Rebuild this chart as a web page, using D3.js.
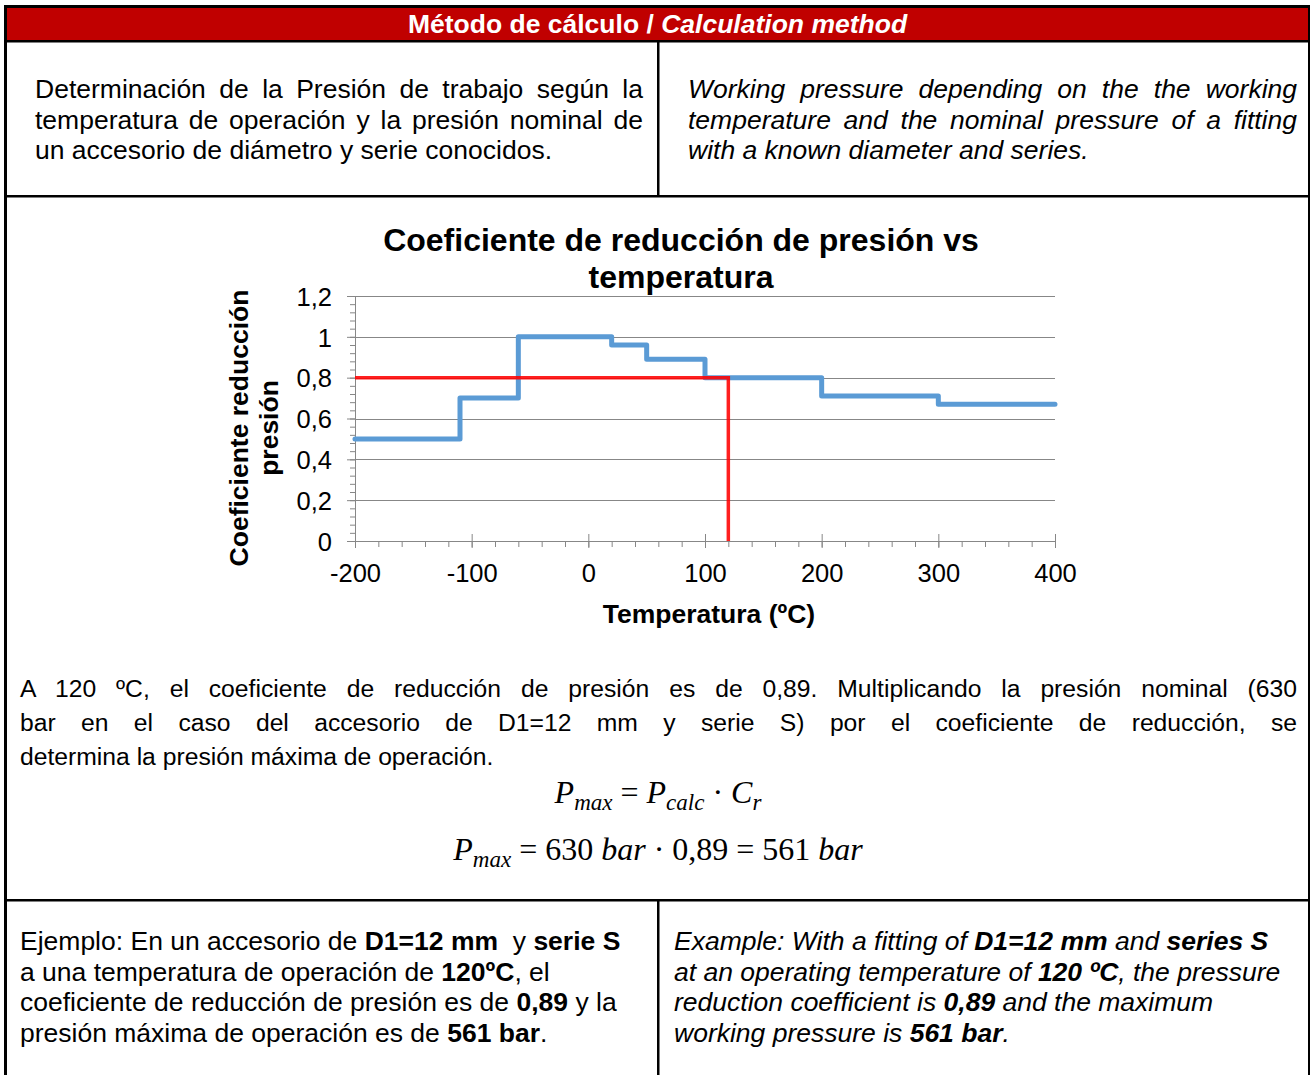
<!DOCTYPE html>
<html>
<head>
<meta charset="utf-8">
<script src="https://cdn.jsdelivr.net/npm/d3@7"></script>
<style>
  body { margin: 0; background: #fff; font-family: "Liberation Sans", Arial, sans-serif; color: #000; }
  #page { position: relative; width: 1310px; height: 1075px; overflow: hidden; }
  #chart { position: absolute; left: 0; top: 0; }
  .blk { position: absolute; }
  .jl { text-align: justify; text-align-last: justify; white-space: nowrap; }
  .jl-last { text-align: left; white-space: nowrap; }
  .it { font-style: italic; }
  .hdr { position: absolute; left: 7px; top: 8px; width: 1301px; height: 32px; line-height: 33px;
         text-align: center; color: #fff; font-weight: bold; font-size: 26.5px; white-space: nowrap; }
  .math { position: absolute; left: 0; width: 1316px; text-align: center; line-height: 40px;
          font-family: "Liberation Serif", "DejaVu Serif", serif; font-size: 32px; white-space: nowrap; }
  .math i { font-style: italic; }
  .math sub { font-size: 72%; vertical-align: -0.3em; font-style: italic; line-height: 0; }
</style>
</head>
<body>
<div id="page">
  <div id="chart"></div>

  <div class="hdr">Método de cálculo / <i>Calculation method</i></div>

  <div class="blk" style="left:35px; top:74px; width:608px; font-size:26.5px; line-height:30.5px;">
    <div class="jl">Determinación de la Presión de trabajo según la</div>
    <div class="jl">temperatura de operación y la presión nominal de</div>
    <div class="jl-last">un accesorio de diámetro y serie conocidos.</div>
  </div>
  <div class="blk it" style="left:688px; top:74px; width:609px; font-size:26.5px; line-height:30.5px;">
    <div class="jl">Working pressure depending on the the working</div>
    <div class="jl">temperature and the nominal pressure of a fitting</div>
    <div class="jl-last">with a known diameter and series.</div>
  </div>

  <div class="blk" style="left:20px; top:672px; width:1277px; font-size:24.7px; line-height:34px;">
    <div class="jl">A 120 ºC, el coeficiente de reducción de presión es de 0,89. Multiplicando la presión nominal (630</div>
    <div class="jl">bar en el caso del accesorio de D1=12 mm y serie S) por el coeficiente de reducción, se</div>
    <div class="jl-last">determina la presión máxima de operación.</div>
  </div>

  <div class="math" style="top:772px;"><i>P</i><sub>max</sub> = <i>P</i><sub>calc</sub> · <i>C</i><sub>r</sub></div>
  <div class="math" style="top:829px;"><i>P</i><sub>max</sub> = 630 <i>bar</i> · 0,89 = 561 <i>bar</i></div>

  <div class="blk" style="left:20px; top:926px; font-size:26.5px; line-height:30.7px; white-space:nowrap;">
    <div>Ejemplo: En un accesorio de <b>D1=12 mm</b>&nbsp; y <b>serie S</b></div>
    <div>a una temperatura de operación de <b>120ºC</b>, el</div>
    <div>coeficiente de reducción de presión es de <b>0,89</b> y la</div>
    <div>presión máxima de operación es de <b>561 bar</b>.</div>
  </div>
  <div class="blk it" style="left:674px; top:926px; font-size:26.5px; line-height:30.7px; white-space:nowrap;">
    <div>Example: With a fitting of <b>D1=12 mm</b> and <b>series S</b></div>
    <div>at an operating temperature of <b>120 ºC</b>, the pressure</div>
    <div>reduction coefficient is <b>0,89</b> and the maximum</div>
    <div>working pressure is <b>561 bar</b>.</div>
  </div>
</div>

<script>
// Step curve: coefficient valid from each temperature up to the next one
const stepTemps = [-200, -110, -60, 20, 50, 100, 200, 300, 400];
const stepCoefs = [0.5, 0.7, 1.0, 0.96, 0.89, 0.8, 0.71, 0.67, 0.67];

// Reading marker (red lines)
const opTemp = 120;
const opCoef = 0.8;

// Axis ticks
const xTicks = [-200, -100, 0, 100, 200, 300, 400];
const yTicks = [0, 0.2, 0.4, 0.6, 0.8, 1, 1.2];
const yTickLabels = ["0", "0,2", "0,4", "0,6", "0,8", "1", "1,2"];

const chartTitle = ["Coeficiente de reducción de presión vs", "temperatura"];
const yTitle = ["Coeficiente reducción", "presión"];
const xTitle = "Temperatura (ºC)";

const width = 1310;
const height = 1075;
const plot = { left: 355, right: 1055, top: 296, bottom: 541 };
const font = '"Liberation Sans", Arial, sans-serif';

const svg = d3.select("#chart")
    .append("svg")
    .attr("width", width)
    .attr("height", height);

// --- table frame ---
svg.append("rect").attr("x", 7).attr("y", 8).attr("width", 1301).attr("height", 32).attr("fill", "#C00000");
const frame = [
    [4, 5, 1307, 3],      // top
    [4, 5, 3, 1070],      // left
    [1308, 5, 3, 1070],   // right
    [4, 40, 1307, 2.5],   // under header
    [4, 195, 1307, 2.5],
    [4, 899, 1307, 2.5],
    [657, 41, 2.5, 155],  // dividers
    [657, 900, 2.5, 175]
];
svg.selectAll("rect.frame")
    .data(frame)
    .join("rect")
    .attr("class", "frame")
    .attr("x", d => d[0]).attr("y", d => d[1])
    .attr("width", d => d[2]).attr("height", d => d[3])
    .attr("fill", "#000");

// --- scales ---
const xScale = d3.scaleLinear().domain([-200, 400]).range([plot.left, plot.right]);
const yScale = d3.scaleLinear().domain([0, 1.2]).range([plot.bottom, plot.top]);

const gridColor = "#878787";

// gridlines
svg.append("g")
    .selectAll("line")
    .data(yTicks.slice(1))
    .join("line")
    .attr("x1", plot.left).attr("x2", plot.right)
    .attr("y1", d => Math.round(yScale(d)) + 0.5).attr("y2", d => Math.round(yScale(d)) + 0.5)
    .attr("stroke", gridColor)
    .attr("stroke-width", 1);

// minor ticks on y (every 0.04)
svg.append("g")
    .attr("transform", `translate(${plot.left},0)`)
    .call(d3.axisLeft(yScale).tickValues(d3.range(0, 61, 2).map(v => v / 50)).tickSize(5).tickFormat(""))
    .call(g => g.select(".domain").remove())
    .call(g => g.selectAll("line").attr("stroke", gridColor));

// y axis
svg.append("g")
    .attr("transform", `translate(${plot.left},0)`)
    .call(d3.axisLeft(yScale).tickValues(yTicks).tickSize(8).tickSizeOuter(0)
        .tickFormat((d, i) => yTickLabels[i]))
    .call(g => g.select(".domain").attr("stroke", gridColor))
    .call(g => g.selectAll(".tick line").attr("stroke", gridColor))
    .call(g => g.selectAll(".tick text")
        .attr("x", -23).attr("dy", "0.36em")
        .attr("font-family", font).attr("font-size", 25.5).attr("fill", "#000"));

// minor ticks on x (every 20)
svg.append("g")
    .attr("transform", `translate(0,${plot.bottom})`)
    .call(d3.axisBottom(xScale).tickValues(d3.range(-200, 401, 20)).tickSize(6).tickFormat(""))
    .call(g => g.select(".domain").remove())
    .call(g => g.selectAll("line").attr("stroke", gridColor));

// x axis
svg.append("g")
    .attr("transform", `translate(0,${plot.bottom})`)
    .call(d3.axisBottom(xScale).tickValues(xTicks).tickSize(7).tickSizeOuter(0).tickFormat(d => String(d)))
    .call(g => g.select(".domain").attr("stroke", gridColor))
    .call(g => g.selectAll(".tick line").attr("y1", -7).attr("stroke", gridColor))
    .call(g => g.selectAll(".tick text")
        .attr("y", 41).attr("dy", 0)
        .attr("font-family", font).attr("font-size", 25.5).attr("fill", "#000"));

// step line
const stepData = stepTemps.map((t, i) => ({ t: t, c: stepCoefs[i] }));
const line = d3.line()
    .x(d => xScale(d.t))
    .y(d => yScale(d.c))
    .curve(d3.curveStepAfter);

svg.append("path")
    .datum(stepData)
    .attr("d", line)
    .attr("fill", "none")
    .attr("stroke", "#5B9BD5")
    .attr("stroke-width", 5)
    .attr("stroke-linejoin", "round")
    .attr("stroke-linecap", "round");

// red reading lines
const marker = [
    { t: -200, c: opCoef },
    { t: opTemp, c: opCoef },
    { t: opTemp, c: 0 }
];
svg.append("path")
    .datum(marker)
    .attr("d", d3.line().x(d => xScale(d.t)).y(d => yScale(d.c)))
    .attr("fill", "none")
    .attr("stroke", "#FF0000")
    .attr("stroke-opacity", 0.88)
    .attr("stroke-width", 3.5);

// chart title
svg.append("text")
    .attr("x", 681)
    .attr("y", 251)
    .attr("text-anchor", "middle")
    .attr("font-family", font)
    .attr("font-weight", "bold")
    .attr("font-size", 32)
    .selectAll("tspan")
    .data(chartTitle)
    .join("tspan")
    .attr("x", 681)
    .attr("dy", (d, i) => i === 0 ? 0 : 37)
    .text(d => d);

// y axis title
svg.append("text")
    .attr("transform", "translate(248,428) rotate(-90)")
    .attr("text-anchor", "middle")
    .attr("font-family", font)
    .attr("font-weight", "bold")
    .attr("font-size", 26.5)
    .selectAll("tspan")
    .data(yTitle)
    .join("tspan")
    .attr("x", 0)
    .attr("dy", (d, i) => i === 0 ? 0 : 30)
    .text(d => d);

// x axis title
svg.append("text")
    .attr("x", 709)
    .attr("y", 623)
    .attr("text-anchor", "middle")
    .attr("font-family", font)
    .attr("font-weight", "bold")
    .attr("font-size", 26.5)
    .text(xTitle);
</script>
</body>
</html>
